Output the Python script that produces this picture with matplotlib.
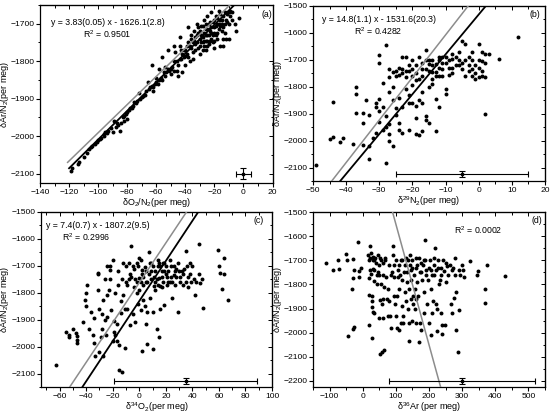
import matplotlib.pyplot as plt
from matplotlib.ticker import MultipleLocator

plt.rcParams['font.family'] = ['Liberation Sans', 'DejaVu Sans']
plt.rcParams['mathtext.fontset'] = 'custom'
plt.rcParams['mathtext.rm'] = 'Liberation Sans'
plt.rcParams['mathtext.it'] = 'Liberation Sans:italic'
plt.rcParams['mathtext.default'] = 'regular'
plt.rcParams['font.size'] = 6.2

# (x, y) points, y = dAr/N2 (per meg)
pts_a = [(-119, -2093), (-118, -2085), (-113, -2070), (-108, -2045), (-105, -2030), (-102, -2020),
         (-101, -2015), (-100, -2010), (-98, -2005), (-96, -1995), (-95, -1990), (-93, -1985),
         (-90, -1990), (-88, -1975), (-86, -1970), (-84, -1965), (-83, -1950), (-82, -1945),
         (-81, -1940), (-80, -1935), (-79, -1930), (-78, -1925), (-80, -1955), (-82, -1960),
         (-76, -1920), (-75, -1910), (-73, -1905), (-71, -1900), (-70, -1895), (-68, -1890),
         (-67, -1880), (-65, -1875), (-64, -1870), (-63, -1865), (-63, -1810), (-62, -1880),
         (-61, -1860), (-60, -1855), (-58, -1850), (-57, -1845), (-56, -1790), (-55, -1830),
         (-54, -1840), (-52, -1820), (-51, -1825), (-50, -1835), (-49, -1815), (-48, -1760),
         (-48, -1800), (-47, -1775), (-46, -1825), (-45, -1810), (-44, -1795), (-44, -1735),
         (-43, -1770), (-42, -1780), (-41, -1790), (-40, -1785), (-40, -1770), (-39, -1760),
         (-38, -1710), (-38, -1750), (-37, -1800), (-36, -1740), (-36, -1765), (-35, -1775),
         (-34, -1720), (-34, -1745), (-33, -1755), (-32, -1730), (-32, -1700), (-31, -1765),
         (-30, -1740), (-30, -1720), (-29, -1750), (-28, -1705), (-28, -1735), (-27, -1690),
         (-27, -1760), (-26, -1715), (-26, -1745), (-25, -1680), (-25, -1730), (-24, -1700),
         (-24, -1755), (-23, -1720), (-22, -1670), (-22, -1740), (-21, -1695), (-20, -1710),
         (-20, -1745), (-19, -1680), (-18, -1700), (-18, -1725), (-17, -1665), (-16, -1690),
         (-16, -1760), (-15, -1720), (-14, -1740), (-13, -1700), (-12, -1690), (-12, -1740),
         (-11, -1675), (-10, -1670), (-9, -1665), (-8, -1690), (-6, -1700), (-5, -1720),
         (-3, -1685), (-20, -1765), (-30, -1780), (-26, -1770), (-31, -1710), (-35, -1795),
         (-40, -1810), (-42, -1830), (-45, -1840), (-58, -1820), (-66, -1855), (-72, -1885),
         (-85, -1985), (-89, -1960), (-96, -2000), (-104, -2025), (-110, -2055), (-114, -2075),
         (-37, -1760), (-36, -1730), (-35, -1750), (-33, -1735), (-33, -1770), (-32, -1750),
         (-31, -1725), (-30, -1760), (-29, -1730), (-29, -1705), (-28, -1750), (-28, -1770),
         (-27, -1725), (-27, -1745), (-26, -1700), (-26, -1730), (-25, -1745), (-25, -1760),
         (-24, -1715), (-24, -1730), (-23, -1695), (-23, -1745), (-22, -1710), (-22, -1725),
         (-21, -1730), (-21, -1750), (-20, -1690), (-20, -1725), (-19, -1705), (-19, -1730),
         (-18, -1685), (-18, -1740), (-17, -1700), (-17, -1715), (-16, -1675), (-16, -1705),
         (-15, -1690), (-15, -1700), (-14, -1680), (-14, -1710), (-13, -1670), (-13, -1725),
         (-11, -1695), (-10, -1700), (-10, -1740), (-9, -1680), (-8, -1670), (-14, -1760),
         (-46, -1800), (-43, -1795), (-41, -1770), (-39, -1780), (-38, -1790), (-50, -1820),
         (-53, -1830), (-56, -1850), (-59, -1860), (-62, -1868), (-69, -1893), (-74, -1912),
         (-77, -1925), (-87, -1965), (-91, -1978), (-94, -1992), (-99, -2008), (-106, -2035),
         (-54, -1815), (-60, -1845), (-48, -1825), (-44, -1760), (-52, -1770)]

pts_b = [(-49, -2090), (-44, -1855), (-45, -1995), (-44, -1985), (-41, -1990), (-42, -2006),
         (-38, -2014), (-37, -1800), (-37, -1827), (-37, -1896), (-34, -1849), (-35, -1896),
         (-35, -1935), (-35, -2015), (-33, -2020), (-33, -2070), (-32, -1990), (-31, -1970),
         (-30, -1682), (-30, -1710), (-30, -1845), (-30, -1890), (-31, -1860), (-31, -1875),
         (-29, -1785), (-28, -1950), (-28, -2082), (-28, -1645), (-27, -1735), (-27, -1765),
         (-27, -1820), (-27, -1975), (-26, -2020), (-26, -1800), (-25, -1740), (-25, -1760),
         (-25, -1880), (-25, -1905), (-24, -1935), (-24, -1960), (-23, -1690), (-23, -1735),
         (-23, -1970), (-22, -1690), (-22, -1740), (-22, -1765), (-22, -1810), (-21, -1830),
         (-21, -1960), (-20, -1735), (-20, -1760), (-20, -1860), (-20, -1700), (-19, -1750),
         (-19, -1775), (-19, -1915), (-19, -1975), (-18, -1980), (-18, -1690), (-18, -1850),
         (-17, -1760), (-17, -1735), (-17, -1860), (-17, -1965), (-16, -1665), (-16, -1700),
         (-16, -1910), (-16, -1925), (-15, -1715), (-15, -1740), (-15, -1935), (-14, -1720),
         (-14, -1790), (-14, -1770), (-13, -1745), (-13, -1845), (-13, -1965), (-12, -1730),
         (-12, -1875), (-12, -1700), (-12, -1760), (-11, -1690), (-11, -1710), (-11, -1735),
         (-10, -1710), (-10, -1810), (-10, -1825), (-9, -1700), (-9, -1755), (-8, -1680),
         (-8, -1695), (-7, -1690), (-6, -1670), (-6, -1720), (-5, -1735), (-5, -1630),
         (-4, -1700), (-4, -1640), (-3, -1690), (-3, -1740), (-2, -1700), (-2, -1760),
         (-1, -1720), (0, -1640), (0, -1700), (0, -1765), (1, -1760), (1, -1670), (2, -1710),
         (2, -1680), (2, -1900), (3, -1680), (6, -1695), (12, -1615), (-2, -1670), (-1, -1750),
         (0, -1730), (1, -1740), (-33, -1905), (-29, -1875), (-28, -1910), (-27, -1940),
         (-26, -1850), (-24, -1730), (-21, -1720), (-20, -1795), (-16, -1735), (-14, -1700),
         (-13, -1760), (-10, -1690), (-8, -1730), (-7, -1720), (-3, -1720), (1, -1705),
         (-26, -1745), (-24, -1755), (-23, -1750), (-21, -1740), (-19, -1720), (-18, -1770),
         (-17, -1710), (-15, -1700), (-14, -1745), (-13, -1715), (-12, -1690), (-11, -1760),
         (-9, -1730), (-8, -1750), (-6, -1700), (-5, -1710), (-4, -1760), (-2, -1735),
         (-1, -1770), (2, -1765), (-21, -1860), (-19, -1870), (-23, -1875), (-24, -1840),
         (-17, -1820), (-15, -1800), (-29, -1960), (-30, -1930), (-27, -2000)]

pts_c = [(-63, -2070), (-55, -1945), (-53, -1965), (-53, -1955), (-50, -1935), (-48, -1950),
         (-47, -1975), (-47, -1960), (-47, -1985), (-42, -1910), (-41, -1825), (-40, -1800),
         (-40, -1850), (-39, -1770), (-38, -1935), (-36, -1870), (-35, -1955), (-34, -1895),
         (-34, -1985), (-33, -2035), (-31, -1725), (-31, -1730), (-31, -1790), (-30, -1860),
         (-30, -2020), (-29, -1965), (-28, -1880), (-28, -1935), (-27, -1825), (-27, -2035),
         (-26, -1900), (-25, -1955), (-24, -1700), (-24, -1890), (-23, -1790), (-22, -1700),
         (-22, -1750), (-22, -1715), (-21, -1865), (-20, -1980), (-20, -1680), (-19, -1905),
         (-19, -1945), (-18, -1955), (-17, -1980), (-17, -1915), (-16, -1720), (-16, -1770),
         (-15, -2085), (-15, -1995), (-14, -1875), (-13, -2095), (-12, -1690), (-12, -1810),
         (-11, -1860), (-11, -2005), (-10, -1700), (-10, -1760), (-9, -1770), (-8, -1690),
         (-7, -1730), (-6, -1740), (-6, -1625), (-5, -1880), (-4, -1710), (-4, -1780),
         (-3, -1910), (-2, -1690), (-2, -1760), (-1, -1840), (0, -1670), (0, -1745),
         (0, -1790), (1, -1680), (1, -1760), (1, -1865), (2, -1715), (2, -2015), (3, -1740),
         (3, -1825), (4, -1705), (5, -1760), (5, -1915), (6, -1990), (6, -1870), (7, -1650),
         (7, -1730), (8, -1690), (8, -1820), (9, -1750), (10, -1700), (10, -1870),
         (10, -2010), (11, -1775), (12, -1720), (12, -1790), (13, -1935), (14, -1680),
         (14, -1700), (15, -1745), (15, -1965), (16, -1700), (16, -1860), (17, -1720),
         (18, -1690), (18, -1760), (19, -1845), (20, -1730), (20, -1700), (21, -1770),
         (22, -1720), (23, -1680), (24, -1740), (25, -1760), (25, -1820), (26, -1700),
         (27, -1720), (28, -1740), (29, -1870), (30, -1720), (31, -1760), (32, -1720),
         (33, -1770), (34, -1710), (35, -1645), (36, -1700), (37, -1740), (37, -1780),
         (38, -1690), (39, -1760), (40, -1700), (41, -1750), (42, -1810), (43, -1760),
         (45, -1620), (45, -1730), (46, -1765), (47, -1750), (48, -1855), (59, -1640),
         (60, -1700), (61, -1725), (62, -1785), (64, -1670), (64, -1730), (67, -1825),
         (-2, -1800), (3, -1770), (5, -1720), (9, -1720), (11, -1740), (13, -1750),
         (15, -1690), (17, -1780), (19, -1720), (22, -1760), (24, -1700), (28, -1710),
         (33, -1730), (-8, -1750), (-5, -1700), (2, -1730), (-13, -1750), (-18, -1800),
         (-26, -1750), (-24, -1810), (-14, -1830), (-9, -1860), (-7, -1920), (4, -1850),
         (12, -1760), (14, -1770), (17, -1740), (19, -1690), (21, -1740), (23, -1760),
         (26, -1735), (29, -1690), (31, -1740), (35, -1760), (38, -1730), (-1, -1700),
         (6, -1760), (9, -1690), (-3, -1750), (16, -1775), (27, -1770)]

pts_d = [(-110, -1710), (-90, -1740), (-75, -1700), (-73, -1735), (-50, -1675), (-48, -1700),
         (-45, -2015), (-28, -1695), (-25, -1740), (-30, -1775), (-32, -1820), (-28, -1985),
         (-25, -1975), (-15, -1625), (-12, -1745), (-12, -1770), (15, -1680), (18, -1700),
         (18, -1775), (19, -1845), (20, -1970), (22, -1640), (22, -1690), (23, -1740),
         (25, -1670), (25, -1755), (27, -1850), (27, -1870), (28, -1895), (28, -2020),
         (30, -1685), (30, -1735), (30, -1915), (32, -1700), (33, -1785), (34, -1920),
         (35, -1740), (38, -1690), (40, -1710), (42, -1760), (43, -1800), (45, -1680),
         (48, -1720), (50, -1940), (51, -1865), (52, -1690), (53, -2090), (55, -1800),
         (56, -1700), (57, -1880), (58, -2080), (60, -1760), (60, -1940), (62, -1860),
         (64, -2070), (65, -1810), (66, -1690), (68, -1700), (70, -1770), (72, -1860),
         (75, -1930), (78, -1720), (80, -1870), (81, -1930), (85, -1980), (88, -1750),
         (90, -1640), (92, -1680), (93, -1770), (95, -1720), (98, -1880), (100, -1700),
         (100, -1930), (102, -1850), (103, -1980), (105, -1770), (108, -1820), (110, -1720),
         (110, -1990), (112, -1760), (115, -1960), (118, -1890), (120, -1700), (120, -1780),
         (121, -1960), (122, -1930), (125, -1750), (128, -1830), (130, -1870), (131, -1690),
         (133, -1790), (135, -1750), (136, -1700), (138, -1900), (140, -2035), (140, -1960),
         (142, -1680), (143, -1720), (145, -1780), (147, -1860), (148, -1700), (150, -1730),
         (152, -1850), (153, -1880), (155, -1760), (157, -1820), (158, -1900), (160, -1690),
         (160, -1960), (162, -1730), (165, -1790), (167, -1850), (170, -1690), (170, -2040),
         (172, -1750), (174, -1960), (175, -1990), (177, -1710), (180, -1780), (182, -1720),
         (185, -1830), (187, -1615), (188, -1700), (190, -1760), (192, -1740), (195, -1880),
         (197, -1780), (200, -1730), (200, -1960), (203, -1700), (205, -1820), (207, -2010),
         (210, -1760), (212, -1870), (214, -1720), (216, -1690), (218, -1650), (220, -1740),
         (221, -1880), (223, -1900), (225, -1995), (226, -1730), (228, -1700), (230, -1800),
         (232, -1780), (235, -1760), (237, -1920), (240, -1970), (240, -2005), (242, -1700),
         (245, -1745), (248, -1970), (250, -1790), (253, -1725), (257, -1760), (265, -1880),
         (268, -1740), (270, -1920), (272, -1730), (275, -1855), (278, -1690), (279, -1760),
         (280, -1830), (282, -1990), (287, -2080), (290, -1905), (295, -1760), (300, -1720),
         (302, -1740), (305, -1770), (325, -1705), (345, -1760), (348, -1745), (368, -1820),
         (370, -1875), (375, -1720), (430, -1765), (-5, -1730), (35, -1700), (45, -1750),
         (62, -1710), (85, -1760), (105, -1740), (115, -1700), (128, -1720), (145, -1740),
         (165, -1720), (175, -1750), (185, -1700), (205, -1740), (215, -1760), (235, -1730),
         (250, -1710), (262, -1720), (290, -1740), (140, -1820), (160, -1860), (185, -1920),
         (95, -1850), (75, -1820), (50, -1760), (150, -1950), (210, -1920)]

# black fit line (slope, intercept, x start) and grey reference line (slope, intercept, x start)
fit_black = [(3.83, -1626.1, -120), (14.8, -1531.6, -60), (7.45, -1831.0, -80), None]
fit_grey = [(3.76, -1615.0, -121), (15.8, -1449.4, -60), (7.39, -1763.0, -80), (-5.0, -1050.0, 0)]

# error bar: x, y, xerr, yerr
err = [(0, -2100, 5, 14), (-5, -2124, 20, 12), (35, -2127, 54, 12), (300, -2200, 220, 12)]

eq_text = ['y = 3.83(0.05) x - 1626.1(2.8)', 'y = 14.8(1.1) x - 1531.6(20.3)',
           'y = 7.4(0.7) x - 1807.2(9.5)', None]
r2_text = ['R$^2$ = 0.9501', 'R$^2$ = 0.4282', 'R$^2$ = 0.2996', 'R$^2$ = 0.0002']
letters = ['(a)', '(b)', '(c)', '(d)']
xlabels = ['δO$_2$/N$_2$(per meg)', 'δ$^{29}$N$_2$(per meg)',
           'δ$^{34}$O$_2$(per meg)', 'δ$^{36}$Ar (per meg)']
xlims = [(-140, 20), (-50, 20), (-74, 100), (-150, 550)]
ylims = [(-2125, -1650), (-2150, -1500), (-2150, -1500), (-2225, -1500)]
xsteps = [20, 10, 20, 100]

# axes boxes in pixels: left, top, right, bottom
boxes = [(40, 5, 272.5, 183), (313, 6, 545, 181), (41, 212, 272, 387), (313, 212, 545, 387)]
ylab_px = [11.5, 283.5, 11.5, 283.5]
eq_pos = [(0.046, 0.90), (0.037, 0.924), (0.02, 0.92), None]
r2_pos = [(0.29, 0.835), (0.28, 0.857), (0.198, 0.855), (0.71, 0.897)]
let_pos = [(0.975, 0.944), (0.957, 0.949), (0.944, 0.954), (0.964, 0.949)]

W, H = 553, 420
fig = plt.figure(figsize=(W / 100, H / 100), dpi=100)

for i, pts in enumerate([pts_a, pts_b, pts_c, pts_d]):
    l, t, r, b = boxes[i]
    ax = fig.add_axes([l / W, 1 - b / H, (r - l) / W, (b - t) / H])
    xs = [p[0] for p in pts]
    ys = [p[1] for p in pts]
    ax.scatter(xs, ys, s=8, c='black', linewidths=0, zorder=2)

    x0, x1 = xlims[i]
    if fit_grey[i] is not None:
        m, c, xs0 = fit_grey[i]
        xa = max(xs0, x0 - 100)
        ax.plot([xa, x1 + 100], [m * xa + c, m * (x1 + 100) + c], color='#8c8c8c', lw=1.1, zorder=3)
    if fit_black[i] is not None:
        m, c, xs0 = fit_black[i]
        ax.plot([xs0, x1 + 100], [m * xs0 + c, m * (x1 + 100) + c], color='black', lw=1.3, zorder=3)

    ex, ey, exe, eye = err[i]
    ax.errorbar(ex, ey, xerr=exe, yerr=eye, fmt='s', ms=2, color='black',
                elinewidth=0.8, capsize=2, capthick=0.8, zorder=4)

    ax.set_xlim(x0, x1)
    ax.set_ylim(*ylims[i])
    ax.xaxis.set_major_locator(MultipleLocator(xsteps[i]))
    ax.xaxis.set_minor_locator(MultipleLocator(xsteps[i] / 2))
    ax.yaxis.set_major_locator(MultipleLocator(100))
    ax.yaxis.set_minor_locator(MultipleLocator(50))
    ax.tick_params(which='major', direction='out', length=3, width=0.8, pad=1, labelsize=6.1)
    ax.tick_params(which='minor', direction='out', length=1.8, width=0.7)

    top = ax.secondary_xaxis('top')
    top.xaxis.set_major_locator(MultipleLocator(xsteps[i]))
    top.xaxis.set_minor_locator(MultipleLocator(xsteps[i] / 2))
    top.tick_params(which='both', direction='in', labeltop=False, width=0.7)
    top.tick_params(which='major', length=3)
    top.tick_params(which='minor', length=1.8)
    right = ax.secondary_yaxis('right')
    right.yaxis.set_major_locator(MultipleLocator(100))
    right.yaxis.set_minor_locator(MultipleLocator(50))
    right.tick_params(which='both', direction='in', labelright=False, width=0.7)
    right.tick_params(which='major', length=3)
    right.tick_params(which='minor', length=1.8)

    for sp in ax.spines.values():
        sp.set_linewidth(0.9)

    ax.set_xlabel(xlabels[i], fontsize=6.5, labelpad=0.5)
    ax.set_ylabel('δAr/N$_2$(per meg)', fontsize=6.5)
    ax.yaxis.set_label_coords((ylab_px[i] - l) / (r - l), 0.5)

    if eq_text[i] is not None:
        ax.text(eq_pos[i][0], eq_pos[i][1], eq_text[i], transform=ax.transAxes,
                fontsize=6.3, ha='left', va='center')
    ax.text(r2_pos[i][0], r2_pos[i][1], r2_text[i], transform=ax.transAxes,
            fontsize=6.3, ha='center', va='center')
    ax.text(let_pos[i][0], let_pos[i][1], letters[i], transform=ax.transAxes,
            fontsize=6.3, ha='center', va='center')

fig.savefig('out.png', dpi=100)
